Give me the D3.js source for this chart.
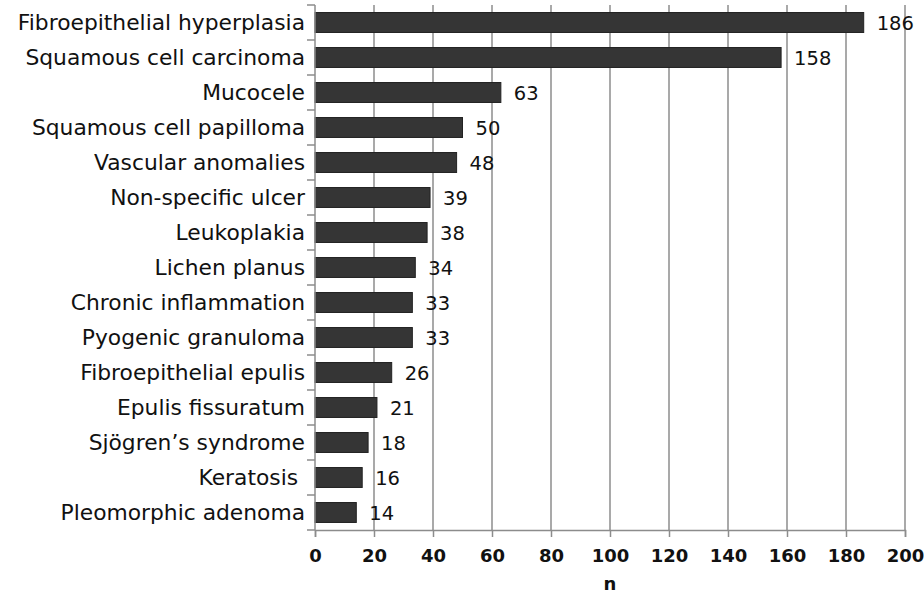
<!DOCTYPE html>
<html><head><meta charset="utf-8">
<script src="https://cdn.jsdelivr.net/npm/d3@7"></script>
<style>body{margin:0;background:#fff} .cat{white-space:pre}</style>
</head><body>
<svg id="c" width="924" height="593"></svg>
<script>
const categories = ["Fibroepithelial hyperplasia","Squamous cell carcinoma","Mucocele","Squamous cell papilloma","Vascular anomalies","Non-specific ulcer","Leukoplakia","Lichen planus","Chronic inflammation","Pyogenic granuloma","Fibroepithelial epulis","Epulis fissuratum","Sjögren’s syndrome","Keratosis ","Pleomorphic adenoma"];
const values = [186,158,63,50,48,39,38,34,33,33,26,21,18,16,14];
const xTicks = [0,20,40,60,80,100,120,140,160,180,200];
const xTitle = "n";

(function(){
const svg = d3.select("#c");
const mL = 315, mR = 905, mT = 5, mB = 530;
const x = d3.scaleLinear().domain([0,200]).range([mL,mR]);
const y = d3.scaleBand().domain(categories).range([mT,mB]).paddingInner(0.43).paddingOuter(0.215);
const font = "'DejaVu Sans', Verdana, sans-serif";

// grid
svg.append("g").selectAll("line").data(xTicks.slice(1)).join("line")
  .attr("x1",d=>x(d)).attr("x2",d=>x(d)).attr("y1",mT).attr("y2",mB)
  .attr("stroke","#8c8c8c").attr("stroke-width",1.5);

// bars
svg.append("g").selectAll("rect").data(values).join("rect")
  .attr("x",x(0)).attr("y",(d,i)=>y(categories[i]))
  .attr("width",d=>x(d)-x(0)).attr("height",y.bandwidth())
  .attr("fill","#353535").attr("stroke","#222").attr("stroke-width",1);

// value labels
svg.append("g").selectAll("text").data(values).join("text")
  .attr("x",d=>x(d)+13).attr("y",(d,i)=>y(categories[i])+y.bandwidth()/2)
  .attr("dy","0.36em").attr("font-family",font).attr("font-size",19.5).attr("fill","#111")
  .text(d=>d);

// x axis
const xa = svg.append("g").attr("transform",`translate(0,${mB})`)
  .call(d3.axisBottom(x).tickValues(xTicks).tickSize(7).tickPadding(12));
xa.select(".domain").attr("stroke","#8c8c8c").attr("stroke-width",1.5);
xa.selectAll(".tick line").attr("stroke","#8c8c8c").attr("stroke-width",1.5);
xa.selectAll("text").attr("font-family",font).attr("font-size",18).attr("font-weight","bold").attr("fill","#111");

// y axis line and boundary ticks
svg.append("line").attr("x1",mL).attr("x2",mL).attr("y1",mT).attr("y2",mB)
  .attr("stroke","#8c8c8c").attr("stroke-width",1.5);
const bounds = d3.range(categories.length+1).map(i=>mT + i*(mB-mT)/categories.length);
svg.append("g").selectAll("line").data(bounds).join("line")
  .attr("x1",mL-8).attr("x2",mL).attr("y1",d=>d).attr("y2",d=>d)
  .attr("stroke","#8c8c8c").attr("stroke-width",1.5);

// category labels
svg.append("g").selectAll("text").data(categories).join("text")
  .attr("class","cat")
  .attr("x",mL-10).attr("y",d=>y(d)+y.bandwidth()/2).attr("dy","0.36em")
  .attr("text-anchor","end").attr("font-family",font).attr("font-size",21.8).attr("fill","#111")
  .text(d=>d);

// x title
svg.append("text").attr("x",x(100)).attr("y",590).attr("text-anchor","middle")
  .attr("font-family",font).attr("font-size",18).attr("font-weight","bold").attr("fill","#111").text(xTitle);
})();
</script>
</body></html>
